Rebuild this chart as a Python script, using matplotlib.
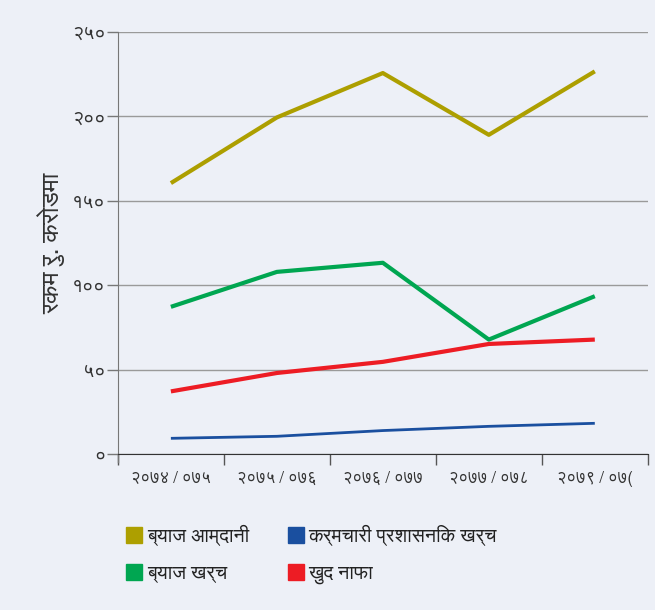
import numpy as np
import matplotlib
matplotlib.use("Agg")
import matplotlib.pyplot as plt
from matplotlib import font_manager

# data (Rs. crore)
years = ["२०७४ / ०७५", "२०७५ / ०७६", "२०७६ / ०७७", "२०७७ / ०७८", "२०७९ / ०७("]
interest_income = [160.5, 199.4, 225.7, 189.1, 226.7]
staff_admin_cost = [9.3, 10.5, 13.9, 16.4, 18.2]
interest_expense = [87.2, 107.9, 113.3, 67.8, 93.5]
net_profit = [37.1, 48.0, 54.6, 65.2, 67.8]

yticks = [0, 50, 100, 150, 200, 250]
ytick_labels = ["०", "५०", "१००", "१५०", "२००", "२५०"]

# find a font that has devanagari glyphs
deva = []
for f in font_manager.fontManager.ttflist:
    if "Devanagari" in f.name or "Lohit" in f.name or "Mukta" in f.name or "FreeSans" in f.name:
        if f.name not in deva:
            deva.append(f.name)
plt.rcParams['font.family'] = deva + ['DejaVu Sans']

bg = '#edf0f7'
fig = plt.figure(figsize=(6.55, 6.10), dpi=100, facecolor=bg)
ax = fig.add_axes([0.180, 0.2557, 0.809, 0.6918], facecolor=bg)

x = np.arange(len(years))
ax.plot(x, interest_income, color='#ad9f00', lw=3, solid_capstyle='butt')
ax.plot(x, interest_expense, color='#00a651', lw=3, solid_capstyle='butt')
ax.plot(x, net_profit, color='#ed1c24', lw=3, solid_capstyle='butt')
ax.plot(x, staff_admin_cost, color='#1a4f9f', lw=2, solid_capstyle='butt')

ax.set_xlim(-0.5, len(years) - 0.5)
ax.set_ylim(0, 250)
ax.set_yticks(yticks)
ax.set_yticklabels(ytick_labels, fontsize=14, color='#333333')
ax.yaxis.grid(True, color='#9a9a9a', lw=1)
ax.set_axisbelow(True)
ax.tick_params(axis='y', length=8, width=1, color='#777777', pad=1)

ax.set_xticks(x)
ax.set_xticklabels(years, fontsize=12, color='#333333')
ax.set_xticks(np.arange(len(years) + 1) - 0.5, minor=True)
ax.tick_params(axis='x', which='major', length=0, pad=12)
ax.tick_params(axis='x', which='minor', length=8, width=1, color='#555555')

for s in ['top', 'right']:
    ax.spines[s].set_visible(False)
ax.spines['left'].set_color('#777777')
ax.spines['bottom'].set_color('#333333')
ax.plot([0, 0], [0, -0.02], transform=ax.transAxes, color='#777777', lw=1, clip_on=False)

ax.set_ylabel("रकम रु. करोडमा", fontsize=18, color='#333333', labelpad=5)

handles = [
    plt.Line2D([], [], marker='s', ls='', color='#ad9f00', markersize=11),
    plt.Line2D([], [], marker='s', ls='', color='#00a651', markersize=11),
    plt.Line2D([], [], marker='s', ls='', color='#1a4f9f', markersize=11),
    plt.Line2D([], [], marker='s', ls='', color='#ed1c24', markersize=11),
]
labels = ["ब्याज आम्दानी", "ब्याज खर्च", "कर्मचारी प्रशासनिक खर्च", "खुद नाफा"]
fig.legend(handles, labels, ncol=2, loc='upper left', bbox_to_anchor=(0.163, 0.168),
           frameon=False, fontsize=14, handletextpad=0.15, columnspacing=1.9,
           labelspacing=0.95, handlelength=1.0, labelcolor='#222222')

fig.savefig("out.png", dpi=100, facecolor=bg)
